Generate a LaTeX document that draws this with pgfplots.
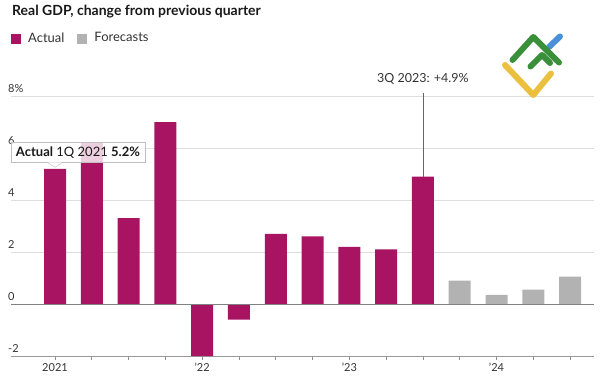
\documentclass[border=0pt]{standalone}
\usepackage{fontspec}
\setmainfont{Lato}
\usepackage{pgfplots}
\pgfplotsset{compat=1.18}
\definecolor{wsjred}{RGB}{168,20,98}
\definecolor{fcgray}{RGB}{178,178,178}
\definecolor{txt}{RGB}{51,51,51}
\definecolor{lgreen}{RGB}{58,143,58}
\definecolor{lyellow}{RGB}{235,192,63}
\definecolor{lblue}{RGB}{74,144,217}
\begin{document}
\begin{tikzpicture}[x=1pt,y=1pt]
\path[use as bounding box] (0,0) rectangle (600,386);
\node[anchor=west, font=\bfseries\fontsize{14}{16}\selectfont, text=black!90, inner sep=0pt] at (12,374) {Real GDP, change from previous quarter};
\begin{axis}[
  at={(11pt,30pt)}, anchor=south west,
  scale only axis, width=583pt, height=260pt,
  xmin=-1.196, xmax=14.65, ymin=-2, ymax=8,
  clip=false,
  ybar, bar width=22pt, bar shift=0pt,
  axis x line*=bottom, axis y line*=left,
  y axis line style={draw=none},
  x axis line style={-, draw=black!40, line width=0.8pt},
  xtick={0,...,14},
  xticklabels={2021,,,,’22,,,,’23,,,,’24,,},
  xtick style={draw=black!45, line width=0.8pt},
  tick align=outside, major tick length=4pt,
  xticklabel style={font=\fontsize{11}{13}\selectfont, text=txt},
  ytick={-2,0,2,4,6,8},
  yticklabels={-2,0,2,4,6,8\%},
  ytick style={draw=none},
  yticklabel style={anchor=south west, font=\fontsize{11}{13}\selectfont, text=txt, inner sep=0pt, xshift=1pt, yshift=3pt},
  ymajorgrids, grid style={draw=black!13, line width=0.6pt},
  legend style={at={(axis description cs:0.0,1.223)}, anchor=west, draw=none, fill=none,
    font=\fontsize{13}{15}\selectfont, text=txt, inner sep=0pt,
    /tikz/every odd column/.style={column sep=5pt},
    /tikz/every even column/.style={column sep=11pt}},
  legend columns=2, legend cell align=left,
]
\addplot[fill=wsjred, draw=none, legend image code/.code={\fill[wsjred] (0pt,-5.5pt) rectangle (10pt,4.5pt);}]
  coordinates {(0,5.2)(1,6.2)(2,3.3)(3,7.0)(4,-2.0)(5,-0.6)(6,2.7)(7,2.6)(8,2.2)(9,2.1)(10,4.9)};
\addlegendentry{Actual}
\addplot[fill=fcgray, draw=none, legend image code/.code={\fill[fcgray] (0pt,-5.5pt) rectangle (10pt,4.5pt);}]
  coordinates {(11,0.9)(12,0.35)(13,0.55)(14,1.05)};
\addlegendentry{Forecasts}
\draw[black!50, line width=1pt] (axis cs:-1.196,0) -- (axis cs:14.65,0);
% annotation
\draw[black!60, line width=0.7pt] (axis cs:10,4.9) -- (axis cs:10,8.1);
\node[font=\fontsize{12.5}{15}\selectfont, text=txt] at (axis cs:10,8.64) {3Q 2023: +4.9\%};
% tooltip
\node[draw=black!25, fill=white, fill opacity=0.8, text opacity=1, inner xsep=5pt, inner ysep=4.5pt, anchor=south, text=black!90,
  font=\fontsize{13}{15}\selectfont] (tip) at ([xshift=23pt, yshift=6pt]axis cs:0,5.2) {\textbf{Actual} 1Q 2021 \textbf{5.2\%}};
\fill[white] ([xshift=-7pt,yshift=6.4pt]axis cs:0,5.2) -- ([yshift=1.5pt]axis cs:0,5.2) -- ([xshift=7pt,yshift=6.4pt]axis cs:0,5.2) -- cycle;
\draw[black!25, line width=0.4pt] ([xshift=-7pt,yshift=6pt]axis cs:0,5.2) -- ([yshift=1.5pt]axis cs:0,5.2) -- ([xshift=7pt,yshift=6pt]axis cs:0,5.2);
\end{axis}
% logo
\begin{scope}[line cap=round, line join=round, line width=6pt]
\draw[lblue] (549,339) -- (560,349.5);
\draw[lgreen] (512.5,326) -- (533.3,349) -- (559,323.5);
\draw[lgreen] (530.5,319.5) -- (542,331) -- (550,323);
\draw[lyellow] (505,321) -- (533.3,291) -- (551,312.5);
\end{scope}
\end{tikzpicture}
\end{document}
